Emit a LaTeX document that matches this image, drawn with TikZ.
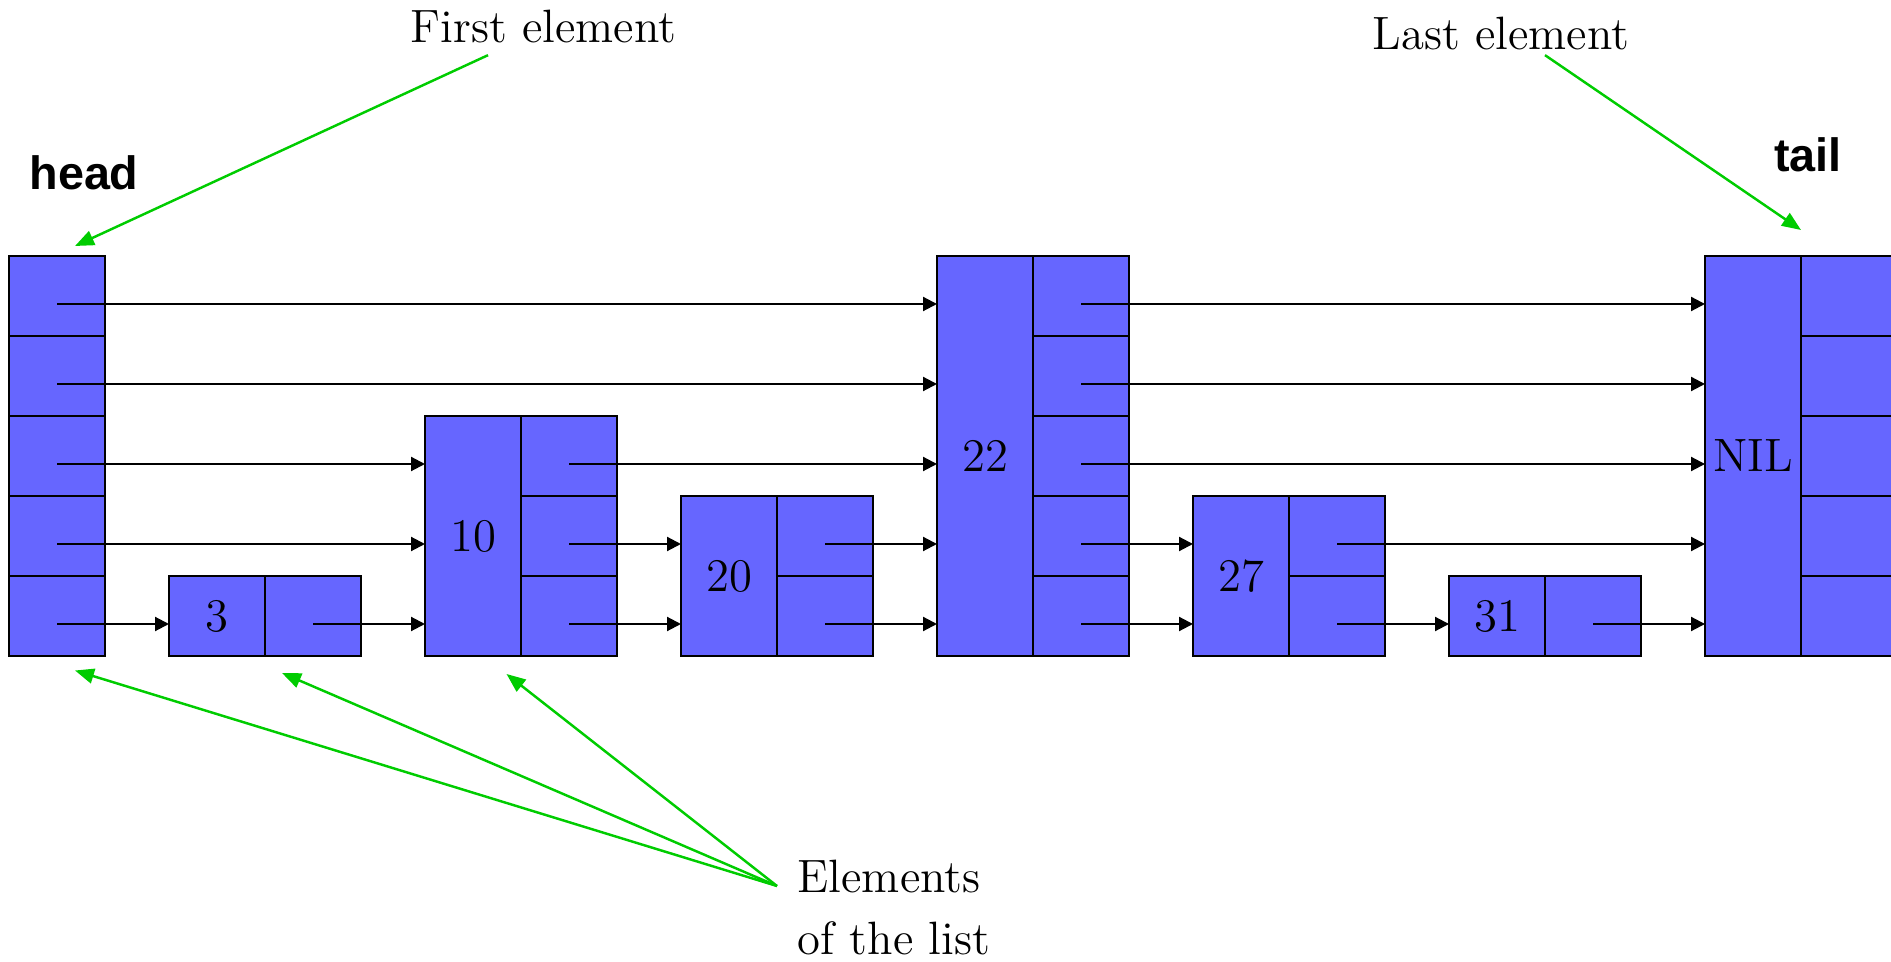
\documentclass[tikz,border=0pt]{standalone}
\usepackage{fontspec}
\usetikzlibrary{arrows, positioning}
\usetikzlibrary {arrows.meta}
\usepackage{xcolor}
\definecolor{cellcolor}{RGB}{102,102,255}
\definecolor{notecolor}{RGB}{0,204,0}
\newfontfamily\labelsans{Liberation Sans}

\begin{document}
\begin{tikzpicture}[every node/.style={font=\fontsize{13.3}{17.6}\selectfont}, cell/.style={draw, fill=cellcolor, line width=0.4pt, minimum width=0.96cm, minimum height=0.8cm, inner sep=0pt, outer sep=0pt, anchor=south west},
    ptr/.style={-{Triangle[length=1.4mm, width=1.4mm]}, line width=0.6pt}, note/.style={-{Triangle[length=1.9mm, width=1.5mm]}, color=notecolor, line width=0.7pt}]
    \tikzstyle{textnote} = [inner sep=0pt, anchor=base west, align=left]
    \tikzstyle{endlabel} = [inner sep=0pt, anchor=base, font=\labelsans\bfseries\fontsize{13.3}{16}\selectfont]

    \useasboundingbox (0,0) rectangle (18.91,9.61);
    \clip (0,0) rectangle (18.91,9.61);

    % head pointers
    \foreach \l in {1,...,5} {
      \node[cell] (head-\l) at (0.09, 2.25+0.8*\l) {};
      \coordinate (ahead-\l) at ([yshift=-0.08cm]head-\l.center);
    }
    % list elements: key column, then one pointer cell per level
    \foreach \n/\x/\h in {3/1.69/1, 10/4.25/3, 20/6.81/2, 22/9.37/5, 27/11.93/2, 31/14.49/1, NIL/17.05/5} {
      \node[cell, minimum height=\h*0.8cm] (k\n) at (\x, 3.05) {\n};
      \foreach \l in {1,...,\h} {
        \node[cell] (p\n-\l) at ([yshift=\l*0.8cm-0.8cm]k\n.south east) {};
        \coordinate (a\n-\l) at ([yshift=-0.08cm]p\n-\l.center);
      }
    }

    \foreach \s/\t in {head-5/22, head-4/22, head-3/10, head-2/10, head-1/3, 3-1/10, 10-3/22, 10-2/20, 10-1/20, 20-2/22, 20-1/22,
                       22-5/NIL, 22-4/NIL, 22-3/NIL, 22-2/27, 22-1/27, 27-2/NIL, 27-1/31, 31-1/NIL}
      \draw[ptr] (a\s) -- (a\s -| k\t.west);

    \node[endlabel] (headlabel) at (0.84, 7.71) {head};
    \node[endlabel] (taillabel) at (18.08, 7.89) {tail};
    \node[textnote] (first) at (4.10, 9.18) {First element};
    \node[textnote] (last) at (13.72, 9.11) {Last element};
    \node[textnote] (elems) at (7.97, 0.07) {Elements\\of the list};

    \draw[note] ([xshift=0.78cm, yshift=-0.11cm]first.south west) -- ([xshift=0.18cm, yshift=0.1cm]head-5.north);
    \draw[note] ([xshift=1.73cm, yshift=-0.04cm]last.south west) -- ([yshift=0.26cm]pNIL-5.north west);
    \draw[note] ([xshift=-0.2cm, yshift=0.68cm]elems.base west) -- ([xshift=0.18cm, yshift=-0.145cm]head-1.south);
    \draw[note] ([xshift=-0.2cm, yshift=0.68cm]elems.base west) -- ([xshift=0.17cm, yshift=-0.17cm]k3.south east);
    \draw[note] ([xshift=-0.2cm, yshift=0.68cm]elems.base west) -- ([xshift=-0.145cm, yshift=-0.18cm]k10.south east);
\end{tikzpicture}
\end{document}
